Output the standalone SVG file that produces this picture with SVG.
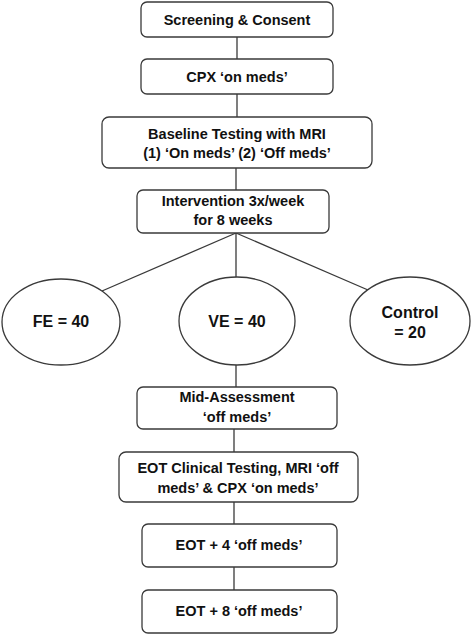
<svg xmlns="http://www.w3.org/2000/svg" width="472" height="635" viewBox="0 0 472 635">
<style>
.b{fill:#fff;stroke:#3a3a3a;stroke-width:1.3}
.c{stroke:#3a3a3a;stroke-width:1.3;fill:none}
text{font-family:"Liberation Sans",Arial,sans-serif;font-weight:bold;font-size:14.5px;fill:#111;text-anchor:middle}
.e{font-size:16px}
</style>
<rect width="472" height="635" fill="#fff"/>
<g id="connectors">
<line class="c" x1="237" y1="37" x2="237" y2="59"/>
<line class="c" x1="237" y1="94" x2="237" y2="117"/>
<line class="c" x1="236" y1="168" x2="236" y2="190"/>
<line class="c" x1="236" y1="233" x2="102" y2="291"/>
<line class="c" x1="236" y1="233" x2="236" y2="277"/>
<line class="c" x1="236" y1="233" x2="368" y2="290"/>
<line class="c" x1="236" y1="365" x2="236" y2="387"/>
<line class="c" x1="234" y1="429" x2="234" y2="452"/>
<line class="c" x1="234" y1="502" x2="234" y2="524"/>
<line class="c" x1="234" y1="567" x2="234" y2="590"/>
</g>
<g id="n1"><rect class="b" x="141" y="2" width="192" height="35" rx="6"/><text x="237" y="25">Screening &amp; Consent</text></g>
<g id="n2"><rect class="b" x="141" y="59" width="192" height="35" rx="6"/><text x="237" y="82">CPX ‘on meds’</text></g>
<g id="n3"><rect class="b" x="102" y="117" width="270" height="51" rx="7"/><text x="237" y="139">Baseline Testing with MRI</text><text x="237" y="158">(1) ‘On meds’ (2) ‘Off meds’</text></g>
<g id="n4"><rect class="b" x="137" y="190" width="192" height="43" rx="6"/><text x="233" y="206">Intervention 3x/week</text><text x="233" y="225">for 8 weeks</text></g>
<g id="fe"><ellipse class="b" cx="61" cy="322" rx="59" ry="43"/><text class="e" x="61" y="327">FE = 40</text></g>
<g id="ve"><ellipse class="b" cx="237" cy="321" rx="58" ry="44"/><text class="e" x="237" y="327">VE = 40</text></g>
<g id="control"><ellipse class="b" cx="410" cy="321" rx="60" ry="44"/><text class="e" x="410" y="318">Control</text><text class="e" x="410" y="338">= 20</text></g>
<g id="n5"><rect class="b" x="137" y="387" width="200" height="42" rx="6"/><text x="237" y="402">Mid-Assessment</text><text x="237" y="422">‘off meds’</text></g>
<g id="n6"><rect class="b" x="119" y="452" width="239" height="50" rx="7"/><text x="238" y="473">EOT Clinical Testing, MRI ‘off</text><text x="238" y="493">meds’ &amp; CPX ‘on meds’</text></g>
<g id="n7"><rect class="b" x="142" y="524" width="195" height="43" rx="6"/><text x="239" y="550">EOT + 4 ‘off meds’</text></g>
<g id="n8"><rect class="b" x="142" y="590" width="195" height="43" rx="6"/><text x="239" y="616">EOT + 8 ‘off meds’</text></g>
</svg>
